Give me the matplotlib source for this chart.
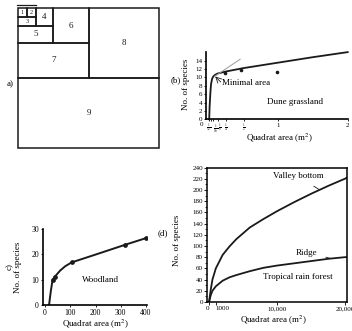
import matplotlib
matplotlib.use("Agg")
import matplotlib.pyplot as plt
from matplotlib.patches import Rectangle

plt.rcParams['font.family'] = ['Liberation Serif', 'DejaVu Serif']
plt.rcParams['mathtext.fontset'] = 'stix'

W, H = 352, 331
INK = '#1a1a1a'

# (a) nested quadrats, each one doubling the area sampled so far
quadrat_ids = [1, 2, 3, 4, 5, 6, 7, 8, 9]

# (b) dune grassland
b_curve_x = [0.004, 0.01, 0.02, 0.03, 0.045, 0.0625, 0.09, 0.125, 0.25, 0.5, 1.0, 1.5, 2.0]
b_curve_y = [0.0, 3.0, 6.0, 8.3, 9.6, 10.2, 10.6, 10.9, 11.4, 12.2, 13.5, 14.8, 16.0]
b_pts_x = [0.23, 0.46, 0.98]
b_pts_y = [11.0, 11.8, 11.2]
b_tangent_x = [0.08, 0.45]
b_tangent_y = [10.2, 14.3]
b_xticks = [0, 1/32, 1/16, 1/8, 1/4, 1/2, 1, 2]
b_xlabels = ['', r'$\frac{1}{32}$', r'$\frac{1}{16}$', r'$\frac{1}{8}$',
             r'$\frac{1}{4}$', r'$\frac{1}{2}$', '1', '2']
b_yticks = [0, 2, 4, 6, 8, 10, 12, 14]

# (c) woodland
c_curve_x = [16, 23, 30, 40, 60, 80, 105, 200, 315, 400]
c_curve_y = [0, 5.5, 10, 11.3, 13.6, 15.3, 16.8, 19.9, 23.7, 26.4]
c_pts_x = [30, 40, 105, 315, 400]
c_pts_y = [10, 11.2, 16.8, 23.8, 26.3]

# (d) tropical rain forest
d_x = [0, 250, 500, 1000, 2000, 3000, 4000, 6000, 8000, 10000, 12500, 15000, 17500, 20000, 20300]
d_valley = [0, 22, 40, 60, 84, 99, 112, 133, 148, 162, 178, 193, 207, 220, 222]
d_ridge = [0, 12, 20, 28, 38, 44, 48, 55, 61, 65, 69, 73, 77, 80, 80]
d_xticks = [0, 1000, 10000, 20000]
d_xlabels = ['0', '1000', '10,000', '20,000']


def box(left, top, right, bottom):
    return [left / W, 1 - bottom / H, (right - left) / W, (bottom - top) / H]


def at(x, y):
    return x / W, 1 - y / H


fig = plt.figure(figsize=(W / 100, H / 100), dpi=100)

# ---- (a)
ax = fig.add_axes(box(18, 8, 159, 148))
ax.set_xlim(0, 16)
ax.set_ylim(16, 0)
ax.axis('off')
w = h = 0
for q in quadrat_ids:
    if q == 1:
        r = (0, 0, 1, 1)
        w = h = 1
    elif w == h:
        r = (w, 0, w, h)
        w *= 2
    else:
        r = (0, h, w, h)
        h *= 2
    ax.add_patch(Rectangle(r[:2], r[2], r[3], fill=False, ec=INK, lw=1.1, clip_on=False))
    fs = 4.5 if q <= 3 else 6.5
    ax.text(r[0] + r[2] / 2, r[1] + r[3] / 2, str(q), ha='center', va='center',
            fontsize=fs, color=INK)
ax.plot([-0.1, 2.0], [-0.35, -0.35], color=INK, lw=0.9, clip_on=False)
fig.text(*at(10, 84), 'a)', fontsize=6.5, ha='center', va='center')

# ---- (b)
ax = fig.add_axes(box(206, 51.7, 347.7, 119.3))
ax.plot(b_curve_x, b_curve_y, color=INK, lw=1.3, clip_on=False)
ax.plot(b_tangent_x, b_tangent_y, color='#9a9a9a', lw=0.7)
ax.plot(b_pts_x, b_pts_y, 'o', color=INK, ms=1.6)
ax.set_xlim(-0.042, 2.0)
ax.set_ylim(0, 16.1)
ax.set_xticks(b_xticks)
ax.set_xticklabels(b_xlabels)
ax.set_yticks(b_yticks)
for s in ['top', 'right']:
    ax.spines[s].set_visible(False)
for s in ['left', 'bottom']:
    ax.spines[s].set_linewidth(1.2)
ax.tick_params(axis='y', labelsize=5, length=1.5, width=0.6, pad=1)
ax.tick_params(axis='x', labelsize=3.4, length=1.5, width=0.6, pad=1)
xl = ax.get_xticklabels()
for lab in xl[-2:]:
    lab.set_fontsize(5)
xl[1].set_ha('right')
xl[2].set_ha('left')
xl[3].set_ha('left')
fig.text(*at(202, 124), '0', fontsize=5, ha='center', va='center')
ax.annotate('', xy=(0.09, 10.2), xytext=(0.17, 8.9),
            arrowprops=dict(arrowstyle='->', lw=0.6, color=INK, shrinkA=0, shrinkB=0))
ax.text(0.54, 8.6, 'Minimal area', fontsize=6.5, ha='center', va='center')
ax.text(1.24, 4.2, 'Dune grassland', fontsize=6.5, ha='center', va='center')
fig.text(*at(176, 80), '(b)', fontsize=6.5, ha='center', va='center')
fig.text(*at(186, 84), 'No. of species', fontsize=6.5, rotation=90, ha='center', va='center')
fig.text(*at(279, 138.5), 'Quadrat area (m$^2$)', fontsize=6.5, ha='center', va='center')

# ---- (c)
ax = fig.add_axes(box(43, 229, 147, 305))
ax.plot(c_curve_x, c_curve_y, color=INK, lw=1.4)
ax.plot(c_pts_x, c_pts_y, 'o', color=INK, ms=2.4)
ax.set_xlim(-8, 404)
ax.set_ylim(0, 30)
ax.set_xticks([0, 100, 200, 300, 400])
ax.set_yticks([0, 10, 20, 30])
for s in ['top', 'right']:
    ax.spines[s].set_visible(False)
for s in ['left', 'bottom']:
    ax.spines[s].set_linewidth(1.2)
ax.tick_params(labelsize=5.5, length=1.5, width=0.6, pad=1.5)
ax.text(218, 10, 'Woodland', fontsize=6.5, ha='center', va='center')
fig.text(*at(14, 267), 'c)\nNo. of species', fontsize=6.5, rotation=90,
         ha='center', va='center', multialignment='center', linespacing=1.1)
fig.text(*at(95, 324), 'Quadrat area (m$^2$)', fontsize=6.5, ha='center', va='center')

# ---- (d)
ax = fig.add_axes(box(207, 167.5, 347, 302))
ax.plot(d_x, d_valley, color=INK, lw=1.3)
ax.plot(d_x, d_ridge, color=INK, lw=1.3)
ax.set_xlim(-300, 20300)
ax.set_ylim(0, 240)
ax.set_xticks(d_xticks)
ax.set_xticklabels(d_xlabels)
ax.get_xticklabels()[0].set_ha('right')
ax.get_xticklabels()[1].set_ha('left')
ax.set_yticks(range(0, 241, 20))
ax.set_yticks(range(0, 241, 10), minor=True)
for s in ax.spines.values():
    s.set_linewidth(1.1)
ax.tick_params(labelsize=5, length=2, width=0.6, pad=1)
ax.tick_params(which='minor', length=1.2, width=0.5)
ax.annotate('Valley bottom', xy=(16300, 200), xytext=(13100, 224),
            fontsize=6.5, ha='center', va='center',
            arrowprops=dict(arrowstyle='-', lw=0.6, color=INK, shrinkA=4, shrinkB=0))
ax.annotate('Ridge', xy=(17800, 78), xytext=(14400, 88),
            fontsize=6.5, ha='center', va='center',
            arrowprops=dict(arrowstyle='-', lw=0.6, color=INK, shrinkA=4, shrinkB=0))
ax.text(13000, 45, 'Tropical rain forest', fontsize=6.5, ha='center', va='center')
fig.text(*at(163, 233), '(d)', fontsize=6.5, ha='center', va='center')
fig.text(*at(177, 240), 'No. of species', fontsize=6.5, rotation=90, ha='center', va='center')
fig.text(*at(273, 320), 'Quadrat area (m$^2$)', fontsize=6.5, ha='center', va='center')

fig.savefig('out.png', dpi=100)
